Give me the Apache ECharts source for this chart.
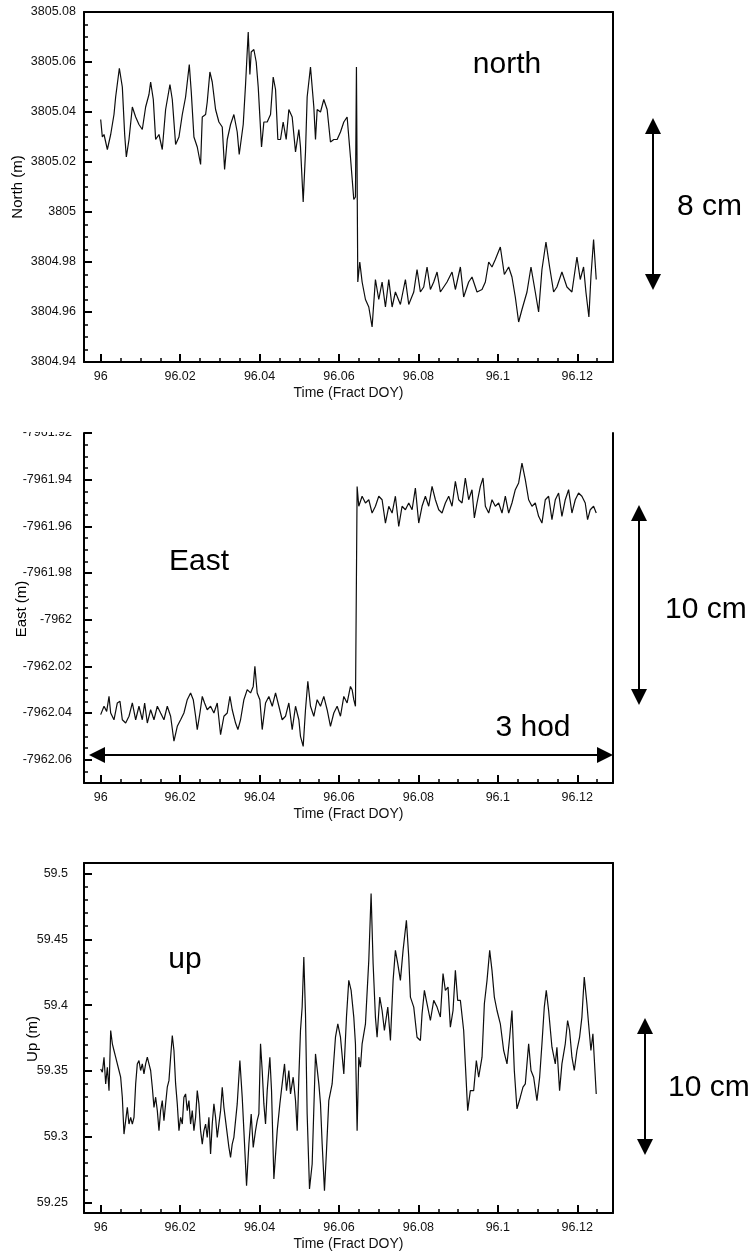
<!DOCTYPE html>
<html>
<head>
<meta charset="utf-8">
<script src="https://cdn.jsdelivr.net/npm/echarts@6/dist/echarts.min.js"></script>
<style>
html,body{margin:0;padding:0;background:#fff;}
#chart{width:750px;height:1254px;}
</style>
</head>
<body>
<div id="chart"></div>
<script>
// time axis (fractional day of year)
var xMajor = [96, 96.02, 96.04, 96.06, 96.08, 96.1, 96.12];
var xMinor = [96.005,96.01,96.015,96.025,96.03,96.035,96.045,96.05,96.055,96.065,96.07,96.075,96.085,96.09,96.095,96.105,96.11,96.115,96.125];

// north
var northTicks = [3804.94,3804.96,3804.98,3805,3805.02,3805.04,3805.06,3805.08];
var northMinor = [3804.945,3804.95,3804.955,3804.965,3804.97,3804.975,3804.985,3804.99,3804.995,3805.005,3805.01,3805.015,3805.025,3805.03,3805.035,3805.045,3805.05,3805.055,3805.065,3805.07,3805.075];
var northT = [
96.00000,96.00042,96.00084,96.00168,96.00252,96.00335,96.00377,96.00470,96.00545,96.00604,
96.00646,96.00713,96.00797,96.00881,96.00964,96.01048,96.01132,96.01216,96.01258,96.01325,
96.01384,96.01468,96.01551,96.01635,96.01744,96.01803,96.01887,96.01971,96.02055,96.02138,
96.02231,96.02281,96.02348,96.02432,96.02516,96.02558,96.02642,96.02683,96.02750,96.02809,
96.02893,96.02977,96.03061,96.03120,96.03187,96.03270,96.03354,96.03438,96.03488,96.03589,
96.03648,96.03715,96.03757,96.03790,96.03857,96.03916,96.03967,96.04050,96.04109,96.04193,
96.04277,96.04344,96.04403,96.04461,96.04528,96.04595,96.04671,96.04738,96.04822,96.04906,
96.04990,96.05031,96.05099,96.05157,96.05199,96.05283,96.05367,96.05409,96.05451,96.05535,
96.05618,96.05702,96.05786,96.05870,96.05954,96.06038,96.06122,96.06205,96.06289,96.06373,
96.06415,96.06440,96.06474,96.06524,96.06583,96.06667,96.06751,96.06834,96.06918,96.07002,
96.07086,96.07170,96.07254,96.07338,96.07421,96.07547,96.07673,96.07757,96.07883,96.07966,
96.08050,96.08134,96.08218,96.08302,96.08386,96.08470,96.08553,96.08637,96.08721,96.08847,
96.08931,96.09057,96.09140,96.09266,96.09350,96.09476,96.09602,96.09686,96.09770,96.09853,
96.09937,96.10063,96.10164,96.10273,96.10356,96.10440,96.10524,96.10608,96.10734,96.10835,
96.10943,96.11027,96.11111,96.11212,96.11304,96.11405,96.11488,96.11614,96.11740,96.11866,
96.11992,96.12075,96.12159,96.12218,96.12293,96.12344,96.12411,96.12478];
var northV = [
3805.037,3805.030,3805.031,3805.025,3805.031,3805.039,3805.046,3805.0575,3805.050,3805.031,
3805.022,3805.029,3805.042,3805.038,3805.035,3805.033,3805.042,3805.047,3805.052,3805.045,
3805.029,3805.031,3805.025,3805.041,3805.051,3805.045,3805.027,3805.030,3805.039,3805.046,
3805.059,3805.048,3805.030,3805.026,3805.019,3805.038,3805.039,3805.044,3805.056,3805.052,
3805.041,3805.036,3805.034,3805.017,3805.029,3805.035,3805.039,3805.032,3805.023,3805.035,
3805.051,3805.072,3805.055,3805.064,3805.065,3805.060,3805.050,3805.026,3805.036,3805.036,
3805.039,3805.054,3805.049,3805.029,3805.029,3805.036,3805.029,3805.041,3805.038,3805.024,
3805.033,3805.026,3805.004,3805.024,3805.046,3805.058,3805.042,3805.029,3805.041,3805.040,
3805.045,3805.041,3805.028,3805.029,3805.029,3805.032,3805.036,3805.038,3805.022,3805.005,
3805.006,3805.058,3804.972,3804.980,3804.972,3804.965,3804.962,3804.954,3804.973,3804.965,
3804.972,3804.962,3804.973,3804.962,3804.968,3804.963,3804.973,3804.963,3804.968,3804.977,
3804.968,3804.970,3804.978,3804.969,3804.972,3804.976,3804.968,3804.970,3804.972,3804.976,
3804.969,3804.978,3804.966,3804.972,3804.974,3804.968,3804.969,3804.972,3804.980,3804.978,
3804.981,3804.986,3804.975,3804.978,3804.974,3804.966,3804.956,3804.961,3804.968,3804.978,
3804.968,3804.960,3804.977,3804.988,3804.978,3804.968,3804.970,3804.976,3804.970,3804.968,
3804.982,3804.973,3804.978,3804.968,3804.958,3804.974,3804.989,3804.973];

// east
var eastTicks = [-7962.06,-7962.04,-7962.02,-7962,-7961.98,-7961.96,-7961.94,-7961.92];
var eastMinor = [-7962.065,-7962.055,-7962.05,-7962.045,-7962.035,-7962.03,-7962.025,-7962.015,-7962.01,-7962.005,-7961.995,-7961.99,-7961.985,-7961.975,-7961.97,-7961.965,-7961.955,-7961.95,-7961.945,-7961.935,-7961.93,-7961.925];
var eastT = [
96.00000,96.00084,96.00151,96.00210,96.00252,96.00335,96.00419,96.00486,96.00545,96.00629,
96.00713,96.00797,96.00881,96.00964,96.01048,96.01107,96.01174,96.01258,96.01342,96.01426,
96.01509,96.01593,96.01677,96.01761,96.01845,96.01929,96.02013,96.02096,96.02180,96.02264,
96.02331,96.02390,96.02432,96.02499,96.02558,96.02616,96.02683,96.02767,96.02851,96.02935,
96.03019,96.03103,96.03187,96.03254,96.03312,96.03396,96.03455,96.03522,96.03606,96.03690,
96.03774,96.03841,96.03883,96.03941,96.04008,96.04067,96.04151,96.04235,96.04320,96.04403,
96.04487,96.04570,96.04654,96.04738,96.04822,96.04906,96.04990,96.05031,96.05099,96.05157,
96.05216,96.05283,96.05367,96.05451,96.05535,96.05618,96.05702,96.05786,96.05870,96.05954,
96.06038,96.06122,96.06205,96.06289,96.06331,96.06373,96.06415,96.06457,96.06499,96.06583,
96.06667,96.06751,96.06834,96.06918,96.07002,96.07086,96.07170,96.07254,96.07338,96.07421,
96.07505,96.07589,96.07673,96.07757,96.07841,96.07924,96.08008,96.08092,96.08176,96.08260,
96.08344,96.08428,96.08512,96.08595,96.08679,96.08763,96.08847,96.08931,96.09015,96.09099,
96.09182,96.09266,96.09350,96.09409,96.09476,96.09560,96.09627,96.09686,96.09770,96.09853,
96.09937,96.10021,96.10105,96.10189,96.10273,96.10356,96.10440,96.10524,96.10608,96.10692,
96.10776,96.10860,96.10943,96.11027,96.11111,96.11195,96.11279,96.11363,96.11447,96.11530,
96.11614,96.11698,96.11782,96.11866,96.11950,96.12033,96.12117,96.12201,96.12260,96.12327,
96.12411,96.12478];
var eastV = [
-7962.0407,-7962.0371,-7962.0393,-7962.0329,-7962.0400,-7962.0429,-7962.0357,-7962.0350,-7962.0429,-7962.0443,
-7962.0414,-7962.0357,-7962.0429,-7962.0371,-7962.0429,-7962.0357,-7962.0443,-7962.0386,-7962.0429,-7962.0371,
-7962.0400,-7962.0429,-7962.0371,-7962.0414,-7962.0521,-7962.0457,-7962.0429,-7962.0400,-7962.0343,-7962.0314,
-7962.0343,-7962.0414,-7962.0471,-7962.0400,-7962.0329,-7962.0357,-7962.0386,-7962.0371,-7962.0400,-7962.0357,
-7962.0493,-7962.0414,-7962.0400,-7962.0329,-7962.0386,-7962.0443,-7962.0471,-7962.0429,-7962.0343,-7962.0300,
-7962.0314,-7962.0286,-7962.0200,-7962.0314,-7962.0343,-7962.0471,-7962.0357,-7962.0329,-7962.0371,-7962.0314,
-7962.0371,-7962.0429,-7962.0414,-7962.0357,-7962.0471,-7962.0371,-7962.0429,-7962.0500,-7962.0543,-7962.0386,
-7962.0264,-7962.0371,-7962.0414,-7962.0343,-7962.0371,-7962.0329,-7962.0386,-7962.0457,-7962.0400,-7962.0371,
-7962.0414,-7962.0329,-7962.0357,-7962.0286,-7962.0300,-7962.0343,-7962.0371,-7961.9429,-7961.9514,-7961.9471,
-7961.9500,-7961.9486,-7961.9543,-7961.9514,-7961.9471,-7961.9486,-7961.9586,-7961.9514,-7961.9543,-7961.9471,
-7961.9600,-7961.9514,-7961.9529,-7961.9500,-7961.9529,-7961.9436,-7961.9586,-7961.9514,-7961.9471,-7961.9514,
-7961.9429,-7961.9486,-7961.9529,-7961.9543,-7961.9500,-7961.9471,-7961.9514,-7961.9407,-7961.9486,-7961.9500,
-7961.9393,-7961.9486,-7961.9443,-7961.9564,-7961.9500,-7961.9429,-7961.9393,-7961.9514,-7961.9543,-7961.9486,
-7961.9514,-7961.9500,-7961.9543,-7961.9471,-7961.9543,-7961.9500,-7961.9443,-7961.9414,-7961.9329,-7961.9400,
-7961.9486,-7961.9514,-7961.9500,-7961.9557,-7961.9586,-7961.9486,-7961.9471,-7961.9571,-7961.9486,-7961.9457,
-7961.9557,-7961.9486,-7961.9443,-7961.9543,-7961.9486,-7961.9457,-7961.9471,-7961.9500,-7961.9571,-7961.9529,
-7961.9514,-7961.9543];

// up
var upTicks = [59.25,59.3,59.35,59.4,59.45,59.5];
var upMinor = [59.26,59.27,59.28,59.29,59.31,59.32,59.33,59.34,59.36,59.37,59.38,59.39,59.41,59.42,59.43,59.44,59.46,59.47,59.48,59.49];
var upT = [
96.00000,96.00042,96.00084,96.00126,96.00168,96.00210,96.00252,96.00294,96.00335,96.00377,
96.00419,96.00461,96.00503,96.00545,96.00587,96.00629,96.00671,96.00713,96.00755,96.00797,
96.00839,96.00881,96.00922,96.00964,96.01006,96.01048,96.01090,96.01132,96.01174,96.01216,
96.01258,96.01300,96.01342,96.01384,96.01426,96.01468,96.01509,96.01551,96.01593,96.01635,
96.01677,96.01719,96.01761,96.01803,96.01845,96.01887,96.01929,96.01971,96.02013,96.02055,
96.02096,96.02138,96.02180,96.02222,96.02264,96.02306,96.02348,96.02390,96.02432,96.02474,
96.02516,96.02558,96.02600,96.02642,96.02683,96.02725,96.02767,96.02809,96.02851,96.02893,
96.02935,96.03019,96.03061,96.03103,96.03187,96.03229,96.03270,96.03312,96.03354,96.03438,
96.03505,96.03564,96.03606,96.03673,96.03732,96.03790,96.03841,96.03899,96.03941,96.03983,
96.04025,96.04067,96.04109,96.04151,96.04193,96.04260,96.04302,96.04361,96.04445,96.04512,
96.04570,96.04629,96.04679,96.04738,96.04780,96.04847,96.04906,96.04948,96.04990,96.05031,
96.05073,96.05115,96.05157,96.05199,96.05258,96.05325,96.05409,96.05493,96.05535,96.05577,
96.05635,96.05686,96.05744,96.05828,96.05912,96.05971,96.06038,96.06122,96.06189,96.06247,
96.06306,96.06373,96.06415,96.06457,96.06499,96.06541,96.06583,96.06667,96.06751,96.06809,
96.06860,96.06918,96.06960,96.07027,96.07086,96.07144,96.07229,96.07296,96.07363,96.07421,
96.07480,96.07547,96.07614,96.07698,96.07757,96.07799,96.07883,96.07966,96.08050,96.08092,
96.08151,96.08218,96.08302,96.08386,96.08470,96.08553,96.08620,96.08679,96.08746,96.08805,
96.08872,96.08931,96.08989,96.09057,96.09140,96.09182,96.09241,96.09308,96.09392,96.09459,
96.09518,96.09602,96.09661,96.09728,96.09795,96.09853,96.09912,96.09979,96.10063,96.10147,
96.10231,96.10298,96.10356,96.10415,96.10482,96.10566,96.10633,96.10692,96.10776,96.10835,
96.10902,96.10985,96.11053,96.11111,96.11170,96.11220,96.11279,96.11363,96.11447,96.11488,
96.11555,96.11614,96.11698,96.11757,96.11807,96.11866,96.11925,96.11992,96.12059,96.12117,
96.12176,96.12243,96.12285,96.12344,96.12394,96.12478];
var upV = [
59.3515,59.349,59.3604,59.3401,59.3528,59.335,59.3807,59.3706,59.3655,59.3604,
59.3604,59.3503,59.3452,59.33,59.302,59.3122,59.3223,59.3096,59.3147,59.3096,
59.3147,59.3401,59.3553,59.3579,59.3503,59.3553,59.3477,59.3553,59.3604,59.3553,
59.3503,59.3376,59.3223,59.33,59.3198,59.3046,59.3198,59.3274,59.3122,59.3249,
59.3376,59.3426,59.3604,59.3769,59.3655,59.3401,59.3249,59.3046,59.3147,59.3096,
59.33,59.3325,59.3198,59.3274,59.3096,59.3198,59.3046,59.3147,59.335,59.3249,
59.3046,59.2944,59.3046,59.3096,59.2995,59.3147,59.2868,59.3096,59.3249,59.3147,
59.2995,59.3198,59.3376,59.3223,59.302,59.2919,59.2843,59.2944,59.2995,59.3249,
59.3579,59.33,59.3046,59.2627,59.2944,59.3173,59.2919,59.3046,59.3122,59.3173,
59.3706,59.3503,59.3249,59.3096,59.335,59.3604,59.335,59.2678,59.3046,59.3249,
59.3401,59.3553,59.335,59.3503,59.3325,59.3452,59.3274,59.3046,59.3452,59.3807,
59.3985,59.4365,59.3934,59.3173,59.2602,59.2792,59.3629,59.3401,59.3249,59.2944,
59.2589,59.2893,59.3274,59.3401,59.3756,59.3858,59.3756,59.3477,59.3909,59.4188,
59.4112,59.3909,59.3706,59.3046,59.3604,59.3528,59.3706,59.3858,59.434,59.4848,
59.4315,59.3909,59.3756,59.4061,59.3959,59.3807,59.3985,59.3731,59.4188,59.4416,
59.4315,59.4188,59.4416,59.4645,59.4365,59.4061,59.3985,59.3756,59.3731,59.3934,
59.4112,59.401,59.3883,59.4036,59.3985,59.3909,59.4239,59.4112,59.4137,59.3832,
59.3959,59.4264,59.4036,59.4036,59.3807,59.3553,59.3198,59.335,59.335,59.3579,
59.3452,59.3604,59.401,59.4188,59.4416,59.4264,59.4061,59.3959,59.3858,59.3655,
59.3553,59.3756,59.3959,59.3503,59.3211,59.33,59.3376,59.3401,59.3706,59.3503,
59.3452,59.3274,59.3452,59.3706,59.3985,59.4112,59.3959,59.368,59.3553,59.368,
59.335,59.3553,59.3706,59.3883,59.3807,59.3604,59.3503,59.3655,59.3756,59.3909,
59.4213,59.401,59.3858,59.3655,59.3782,59.3325];

var chart = echarts.init(document.getElementById('chart'), null, {renderer: 'canvas'});
var FONT = '"Liberation Sans", Arial, Helvetica, sans-serif';
var XMIN = 95.9958, XMAX = 96.129;

var grids = [
	{left: 84, top: 12, width: 529, height: 350},
	{left: 84, top: 433, width: 529, height: 350},
	{left: 84, top: 863, width: 529, height: 350}
];
var yInfo = [
	{min: 3804.94, max: 3805.08, ticks: northTicks, minor: northMinor, margin: 8, box: true},
	{min: -7962.07, max: -7961.92, ticks: eastTicks, minor: eastMinor, margin: 12, box: false},
	{min: 59.242, max: 59.508, ticks: upTicks, minor: upMinor, margin: 16, box: true}
];

function fmt(v){
	return String(+v.toFixed(3));
}

var blackLine = {color: '#000', width: 2};
var xAxis = [], yAxis = [];
// main axes first (index 0..2), used by the series
for (var i = 0; i < 3; i++) {
	xAxis.push({
		gridIndex: i, type: 'value', min: XMIN, max: XMAX, position: 'bottom',
		axisLine: {onZero: false, lineStyle: blackLine},
		axisTick: {inside: true, length: 8, lineStyle: blackLine, customValues: xMajor},
		axisLabel: {customValues: xMajor, formatter: fmt, fontSize: 12.5, color: '#111', fontFamily: FONT, margin: 8},
		splitLine: {show: false},
		name: 'Time (Fract DOY)', nameLocation: 'middle', nameGap: 24,
		nameTextStyle: {fontSize: 14, color: '#111', fontFamily: FONT}
	});
	yAxis.push({
		gridIndex: i, type: 'value', min: yInfo[i].min, max: yInfo[i].max, position: 'left',
		axisLine: {onZero: false, lineStyle: blackLine},
		axisTick: {inside: true, length: 8, lineStyle: blackLine, customValues: yInfo[i].ticks},
		axisLabel: {customValues: yInfo[i].ticks, formatter: fmt, fontSize: 12.5, color: '#111', fontFamily: FONT, margin: yInfo[i].margin},
		splitLine: {show: false}
	});
}
// minor ticks + box lines
for (var i = 0; i < 3; i++) {
	xAxis.push({
		gridIndex: i, type: 'value', min: XMIN, max: XMAX, position: 'bottom',
		axisLine: {show: false},
		axisTick: {inside: true, length: 4, lineStyle: {color: '#000', width: 1.5}, customValues: xMinor},
		axisLabel: {show: false}, splitLine: {show: false}
	});
	yAxis.push({
		gridIndex: i, type: 'value', min: yInfo[i].min, max: yInfo[i].max, position: 'left',
		axisLine: {show: false},
		axisTick: {inside: true, length: 4, lineStyle: {color: '#000', width: 1.5}, customValues: yInfo[i].minor},
		axisLabel: {show: false}, splitLine: {show: false}
	});
	yAxis.push({
		gridIndex: i, type: 'value', min: yInfo[i].min, max: yInfo[i].max, position: 'right',
		axisLine: {show: true, onZero: false, lineStyle: blackLine},
		axisTick: {show: false}, axisLabel: {show: false}, splitLine: {show: false}
	});
	if (yInfo[i].box) {
		xAxis.push({
			gridIndex: i, type: 'value', min: XMIN, max: XMAX, position: 'top',
			axisLine: {show: true, onZero: false, lineStyle: blackLine},
			axisTick: {show: false}, axisLabel: {show: false}, splitLine: {show: false}
		});
	}
}

function pairs(t, v){
	return t.map(function(x, k){ return [x, v[k]]; });
}
var seriesData = [pairs(northT, northV), pairs(eastT, eastV), pairs(upT, upV)];
var series = [];
for (var i = 0; i < 3; i++) {
	series.push({
		type: 'line', xAxisIndex: i, yAxisIndex: i, data: seriesData[i],
		showSymbol: false, symbol: 'none',
		lineStyle: {color: '#0d0d0d', width: 1.2},
		animation: false
	});
}

// annotation helpers
function txt(s, x, y, size, align, rot){
	return {
		type: 'text', x: x, y: y, rotation: rot || 0, z: 50,
		style: {text: s, fontSize: size, fontFamily: FONT, fill: '#000',
			align: align, textAlign: align, verticalAlign: 'middle', textVerticalAlign: 'middle'}
	};
}
function vArrow(x, y1, y2){
	return [
		{type: 'line', z: 50, shape: {x1: x, y1: y1 + 12, x2: x, y2: y2 - 12}, style: {stroke: '#000', lineWidth: 2}},
		{type: 'polygon', z: 50, shape: {points: [[x, y1], [x - 8, y1 + 16], [x + 8, y1 + 16]]}, style: {fill: '#000'}},
		{type: 'polygon', z: 50, shape: {points: [[x, y2], [x - 8, y2 - 16], [x + 8, y2 - 16]]}, style: {fill: '#000'}}
	];
}
function hArrow(y, x1, x2){
	return [
		{type: 'line', z: 50, shape: {x1: x1 + 12, y1: y, x2: x2 - 12, y2: y}, style: {stroke: '#000', lineWidth: 2}},
		{type: 'polygon', z: 50, shape: {points: [[x1, y], [x1 + 16, y - 8], [x1 + 16, y + 8]]}, style: {fill: '#000'}},
		{type: 'polygon', z: 50, shape: {points: [[x2, y], [x2 - 16, y - 8], [x2 - 16, y + 8]]}, style: {fill: '#000'}}
	];
}

var graphics = [
	// the east panel is cut at its top edge
	{type: 'rect', z: 100, shape: {x: 0, y: 395, width: 82, height: 37}, style: {fill: '#fff'}},
	txt('North (m)', 18, 187, 15, 'center', Math.PI / 2),
	txt('East (m)', 22, 609, 15, 'center', Math.PI / 2),
	txt('Up (m)', 33, 1039, 15, 'center', Math.PI / 2),
	txt('north', 507, 65, 30, 'center'),
	txt('East', 199, 562, 30, 'center'),
	txt('up', 185, 960, 30, 'center'),
	txt('3 hod', 533, 728, 30, 'center'),
	txt('8 cm', 677, 207, 30, 'left'),
	txt('10 cm', 665, 610, 30, 'left'),
	txt('10 cm', 668, 1088, 30, 'left')
].concat(vArrow(653, 118, 290), vArrow(639, 505, 705), hArrow(755, 89, 613), vArrow(645, 1018, 1155));

var option = {
	backgroundColor: '#fff',
	animation: false,
	grid: grids,
	xAxis: xAxis,
	yAxis: yAxis,
	series: series,
	graphic: {elements: graphics}
};
chart.setOption(option);
</script>
</body>
</html>
